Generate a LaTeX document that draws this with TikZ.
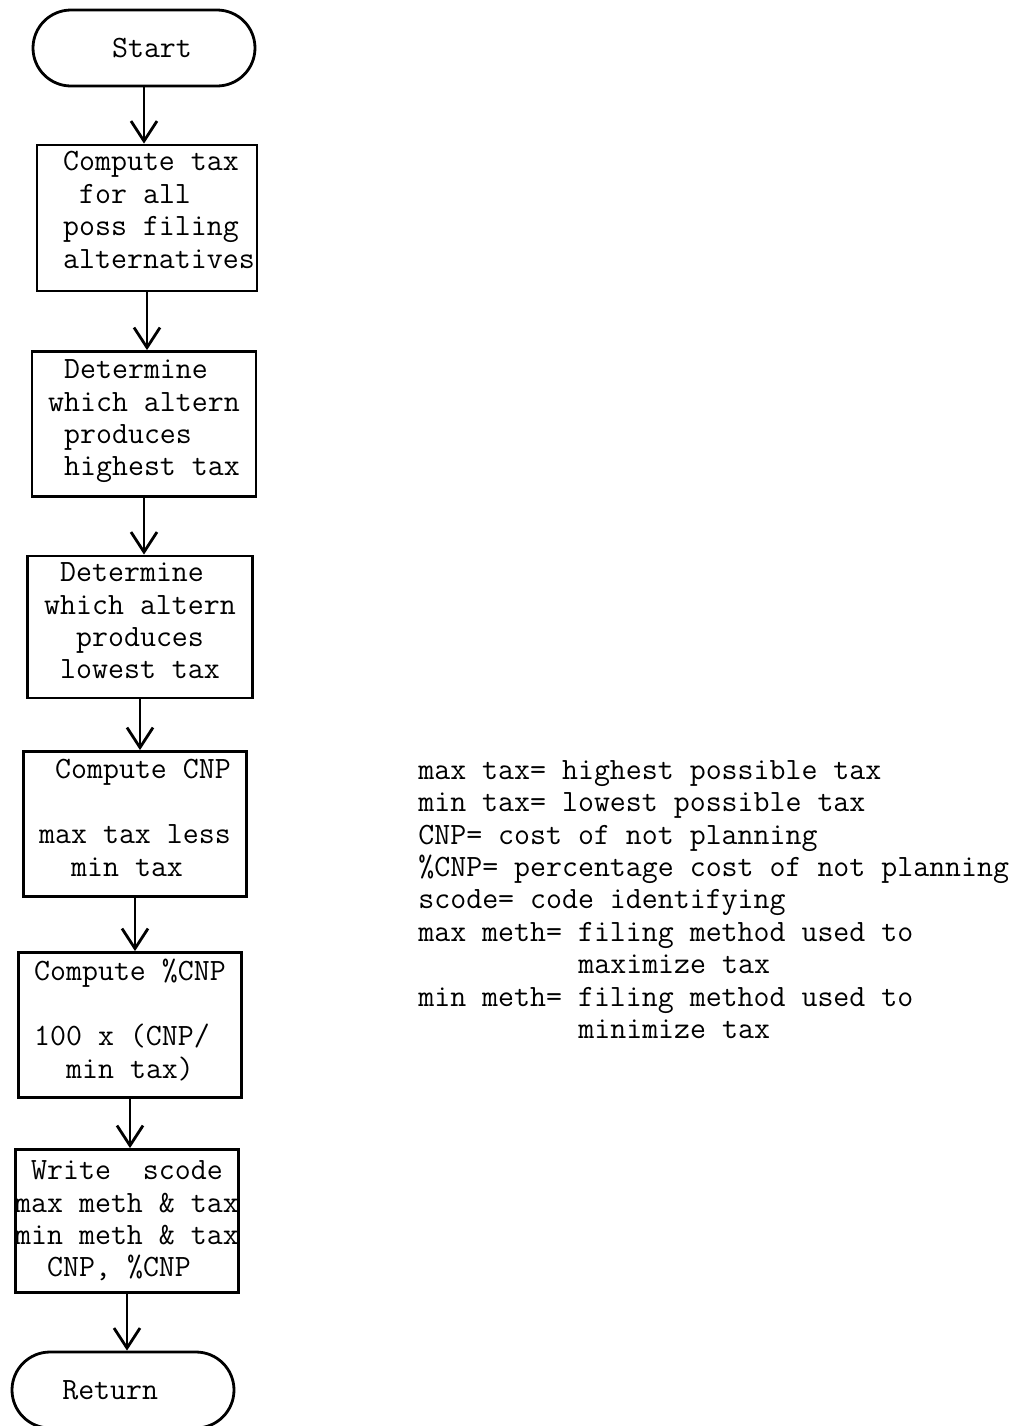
\documentclass[tikz,border=0pt]{standalone}
\usepackage{tikz}
\usetikzlibrary{arrows.meta}
\newlength{\chw}
\setlength{\chw}{8pt}
\newcommand{\chpad}[1]{\hspace*{#1\chw}}
\tikzset{
    mono/.style={font=\ttfamily\fontsize{15.5}{16.2}\selectfont},
    term/.style={draw, line width=1.4pt, minimum width=111pt, minimum height=38pt, rounded corners=19pt},
    proc/.style={draw, line width=1.4pt, align=left, inner xsep=0pt, inner ysep=1pt},
    flow/.style={line width=1.4pt, -{Straight Barb[length=10pt, width=13pt]}},
    note/.style={anchor=north west, inner sep=0pt, align=left},
}

\begin{document}
\begin{tikzpicture}[x=0.5pt, y=-0.5pt, every node/.style={mono}]
    \useasboundingbox (0,0) rectangle (1022,1426);

    % Terminals and steps
    \node[term] (start) at (144,48) {\chpad{1}Start};
    \node[proc, minimum width=110pt, minimum height=73pt] (tax) at (147,218)
        {\chpad{1.5}Compute tax\\\chpad{2.5}for all\\\chpad{1.5}poss filing\\\chpad{1.5}alternatives\\[-8pt]};
    \node[proc, minimum width=112pt, minimum height=72.5pt] (high) at (144,424)
        {\chpad{1}Determine\\which altern\\\chpad{1}produces\\\chpad{1}highest tax\\[-10pt]};
    \node[proc, minimum width=112.5pt, minimum height=71pt] (low) at (140,627)
        {\chpad{1}Determine\\which altern\\\chpad{2}produces\\\chpad{1}lowest tax\\[-10pt]};
    \node[proc, minimum width=111.5pt, minimum height=72.5pt] (cnp) at (135,824)
        {\chpad{1}Compute CNP\\ \\max tax less\\\chpad{2}min tax\\[-10pt]};
    \node[proc, minimum width=111.5pt, minimum height=72.5pt] (pcnp) at (130,1025)
        {Compute \%CNP\\ \\100 x (CNP/\\\chpad{2}min tax)\\[-10pt]};
    \node[proc, minimum width=111pt, minimum height=71.5pt] (write) at (127,1221)
        {\chpad{1}Write~~scode\\max meth \& tax\\min meth \& tax\\\chpad{2}CNP, \%CNP};
    \node[term] (ret) at (123,1390) {Return\chpad{1.6}};

    % Connectors
    \foreach \a/\b in {start/tax, tax/high, high/low, low/cnp, cnp/pcnp, pcnp/write, write/ret} {
        \draw[flow] (\a) -- (\a |- \b.north);
    }

    % Legend
    \node[note] (legend) at (418,760)
        {max tax= highest possible tax\\
         min tax= lowest possible tax\\
         CNP= cost of not planning\\
         \%CNP= percentage cost of not planning\\
         scode= code identifying\\
         max meth= filing method used to\\
         \chpad{10}maximize tax\\
         min meth= filing method used to\\
         \chpad{10}minimize tax};
\end{tikzpicture}
\end{document}
